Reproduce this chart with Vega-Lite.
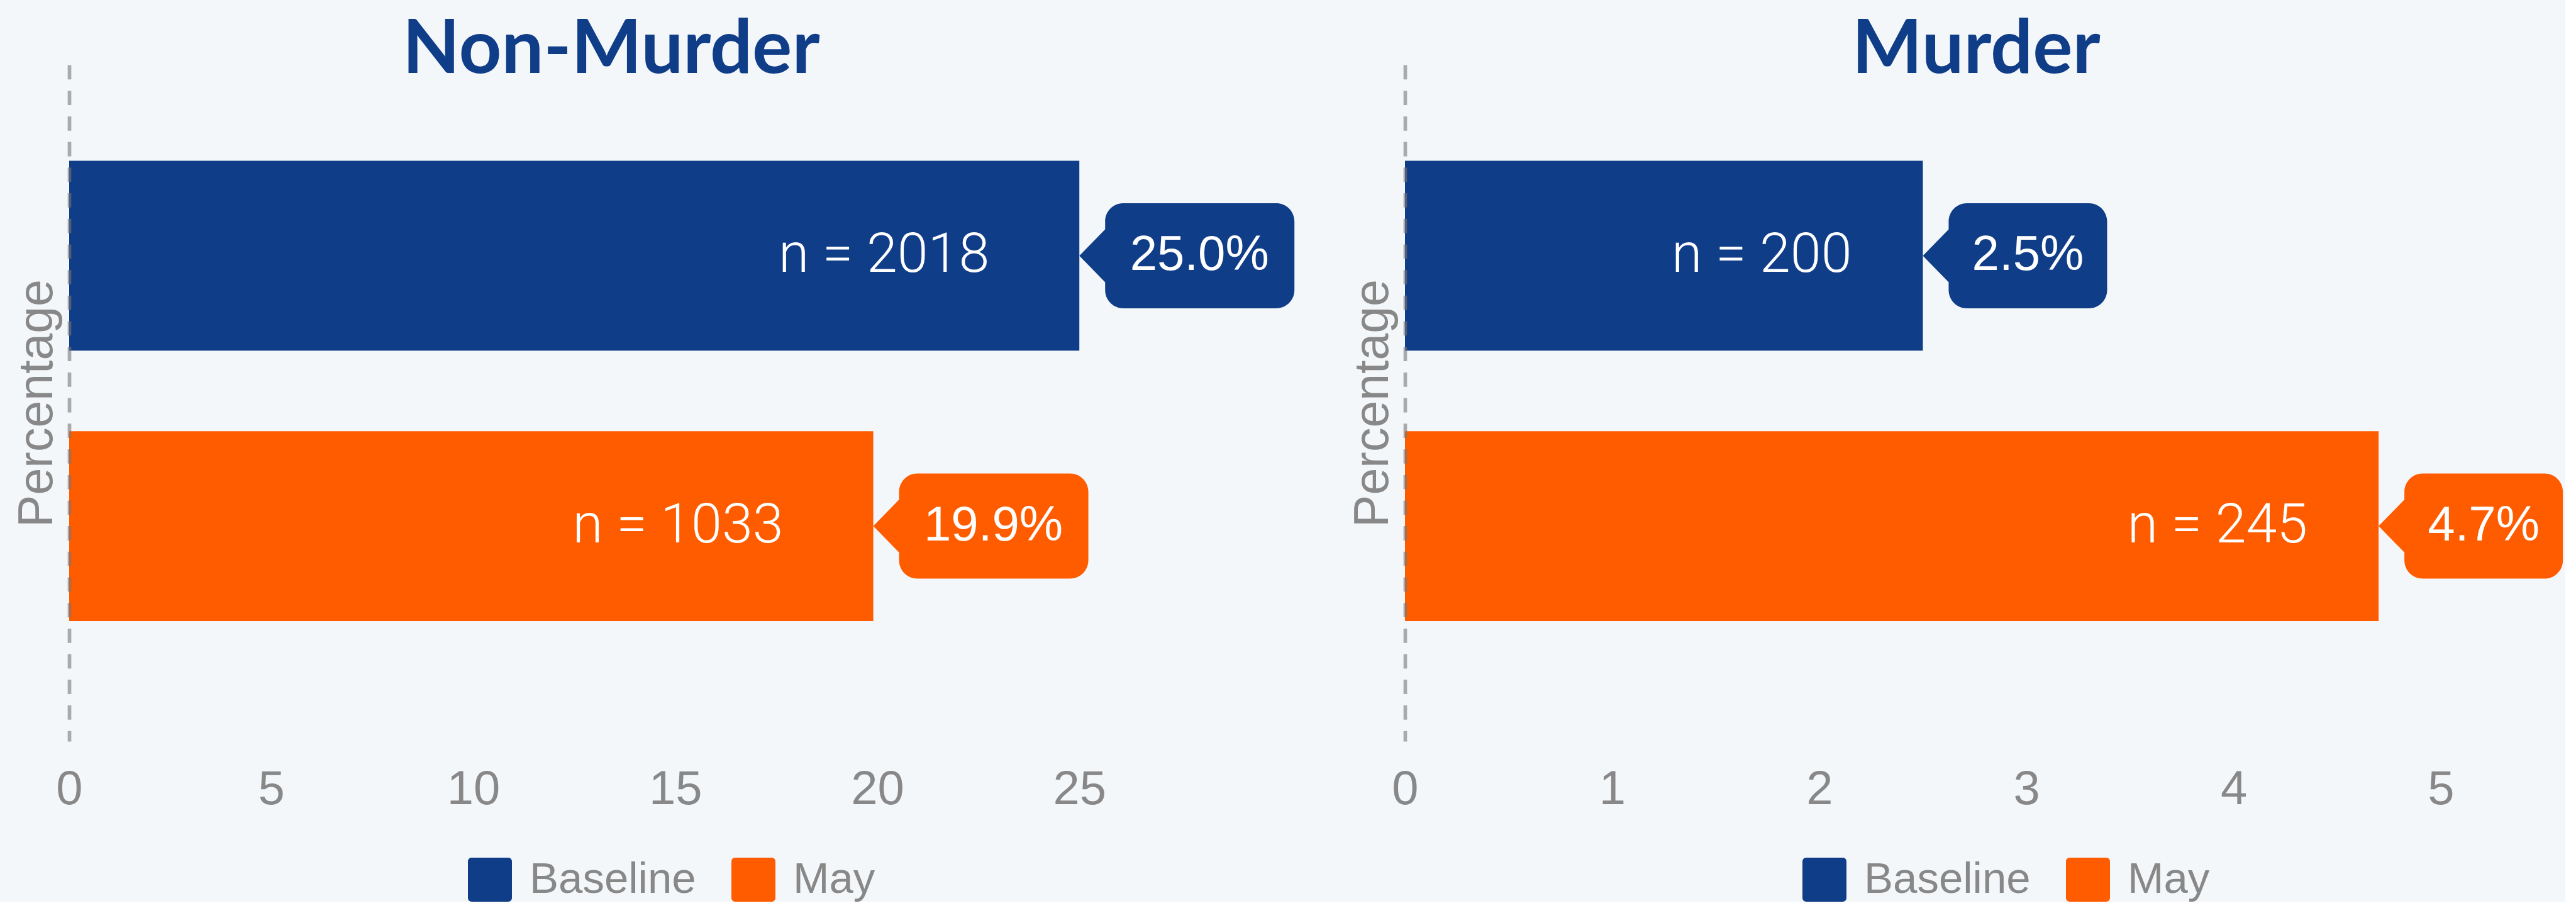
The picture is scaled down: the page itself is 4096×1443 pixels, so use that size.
{
  "$schema": "https://vega.github.io/schema/vega-lite/v6.json",
  "background": "#f4f7fa",
  "padding": {"left": 20, "top": 20, "right": 0, "bottom": 0},
  "spacing": 74,
  "config": {
    "font": "Liberation Sans",
    "view": {"stroke": null}
  },
  "resolve": {
    "scale": {"x": "independent", "y": "independent", "color": "independent"},
    "legend": {"color": "independent"},
    "axis": {"x": "independent", "y": "independent"}
  },
  "hconcat": [
    {
      "width": 1959.6,
      "height": 1075,
      "title": {"text": "Non-Murder", "font": "Lato", "fontWeight": "bold", "fontSize": 118.5, "color": "#0f3d87", "baseline": "alphabetic", "offset": -131, "dx": -118, "anchor": "middle", "frame": "group"},
      "data": {"values": [
        {"series": "Baseline", "pct": 25.0, "nlabel": "n = 2018", "pctlabel": "25.0%"},
        {"series": "May", "pct": 19.9, "nlabel": "n = 1033", "pctlabel": "19.9%"}
      ]},
      "encoding": {
        "y": {"field": "series", "type": "nominal", "sort": ["Baseline", "May"],
          "scale": {"paddingInner": 0.298, "paddingOuter": 0.4, "align": 0.444},
          "axis": {"title": "Percentage", "labels": false, "ticks": false, "grid": false, "domain": true, "domainDash": [22.8, 17.9], "domainColor": "#777777", "domainOpacity": 0.6, "domainWidth": 5.7, "titleFontSize": 77, "titleColor": "#888888", "titleFontWeight": "normal", "titleFont": "Liberation Sans", "titlePadding": 12, "zindex": 1}}
      },
      "layer": [
        {
          "mark": {"type": "bar"},
          "encoding": {
            "x": {"field": "pct", "type": "quantitative", "scale": {"domain": [0, 30.5], "nice": false},
              "axis": {"values": [0, 5, 10, 15, 20, 25], "format": "d", "domain": false, "ticks": false, "tickSize": 0, "grid": false, "labelFontSize": 76, "labelColor": "#888888", "labelFont": "Liberation Sans", "labelPadding": 39, "labelFlush": false, "title": null}},
            "color": {"field": "series", "type": "nominal", "scale": {"domain": ["Baseline", "May"], "range": ["#0f3d87", "#ff5c00"]},
              "legend": {"orient": "none", "legendX": 634, "legendY": 1260, "direction": "horizontal", "title": null, "symbolType": "M-1,-0.83 A0.17,0.17 0 0 1 -0.83,-1 L0.83,-1 A0.17,0.17 0 0 1 1,-0.83 L1,0.83 A0.17,0.17 0 0 1 0.83,1 L-0.83,1 A0.17,0.17 0 0 1 -1,0.83 Z", "symbolSize": 4900, "symbolStrokeWidth": 0, "symbolOpacity": 1, "labelFontSize": 69, "labelLimit": 600, "labelColor": "#888888", "labelFont": "Liberation Sans", "labelOffset": 28, "columnPadding": 56, "padding": 0}}
          }
        },
        {
          "mark": {"type": "text", "align": "right", "baseline": "middle", "dx": -143, "font": "Roboto", "fontWeight": 300, "fontSize": 88, "color": "#ffffff"},
          "encoding": {"x": {"field": "pct", "type": "quantitative"}, "text": {"field": "nlabel"}}
        },
        {
          "mark": {"type": "point", "shape": "M0,0 L0.41,-0.42 L0.41,-0.545 A0.29,0.29 0 0 1 0.7,-0.835 L3.13,-0.835 A0.29,0.29 0 0 1 3.42,-0.545 L3.42,0.545 A0.29,0.29 0 0 1 3.13,0.835 L0.7,0.835 A0.29,0.29 0 0 1 0.41,0.545 L0.41,0.42 Z", "size": 40000, "filled": true, "opacity": 1, "strokeWidth": 0},
          "encoding": {"x": {"field": "pct", "type": "quantitative"}, "color": {"field": "series", "type": "nominal"}}
        },
        {
          "mark": {"type": "text", "align": "center", "baseline": "middle", "dx": 191, "font": "Liberation Sans", "fontSize": 78, "color": "#ffffff"},
          "encoding": {"x": {"field": "pct", "type": "quantitative"}, "text": {"field": "pctlabel"}}
        }
      ]
    },
    {
      "width": 1844.6,
      "height": 1075,
      "title": {"text": "Murder", "font": "Lato", "fontWeight": "bold", "fontSize": 118.5, "color": "#0f3d87", "baseline": "alphabetic", "offset": -131, "dx": -14, "anchor": "middle", "frame": "group"},
      "data": {"values": [
        {"series": "Baseline", "pct": 2.5, "nlabel": "n = 200", "pctlabel": "2.5%"},
        {"series": "May", "pct": 4.7, "nlabel": "n = 245", "pctlabel": "4.7%"}
      ]},
      "encoding": {
        "y": {"field": "series", "type": "nominal", "sort": ["Baseline", "May"],
          "scale": {"paddingInner": 0.298, "paddingOuter": 0.4, "align": 0.444},
          "axis": {"title": "Percentage", "labels": false, "ticks": false, "grid": false, "domain": true, "domainDash": [22.8, 17.9], "domainColor": "#777777", "domainOpacity": 0.6, "domainWidth": 5.7, "titleFontSize": 77, "titleColor": "#888888", "titleFontWeight": "normal", "titleFont": "Liberation Sans", "titlePadding": 12, "zindex": 1}}
      },
      "layer": [
        {
          "mark": {"type": "bar"},
          "encoding": {
            "x": {"field": "pct", "type": "quantitative", "scale": {"domain": [0, 5.6], "nice": false},
              "axis": {"values": [0, 1, 2, 3, 4, 5], "format": "d", "domain": false, "ticks": false, "tickSize": 0, "grid": false, "labelFontSize": 76, "labelColor": "#888888", "labelFont": "Liberation Sans", "labelPadding": 39, "labelFlush": false, "title": null}},
            "color": {"field": "series", "type": "nominal", "scale": {"domain": ["Baseline", "May"], "range": ["#0f3d87", "#ff5c00"]},
              "legend": {"orient": "none", "legendX": 632, "legendY": 1260, "direction": "horizontal", "title": null, "symbolType": "M-1,-0.83 A0.17,0.17 0 0 1 -0.83,-1 L0.83,-1 A0.17,0.17 0 0 1 1,-0.83 L1,0.83 A0.17,0.17 0 0 1 0.83,1 L-0.83,1 A0.17,0.17 0 0 1 -1,0.83 Z", "symbolSize": 4900, "symbolStrokeWidth": 0, "symbolOpacity": 1, "labelFontSize": 69, "labelLimit": 600, "labelColor": "#888888", "labelFont": "Liberation Sans", "labelOffset": 28, "columnPadding": 56, "padding": 0}}
          }
        },
        {
          "mark": {"type": "text", "align": "right", "baseline": "middle", "dx": -113, "font": "Roboto", "fontWeight": 300, "fontSize": 88, "color": "#ffffff"},
          "encoding": {"x": {"field": "pct", "type": "quantitative"}, "text": {"field": "nlabel"}}
        },
        {
          "mark": {"type": "point", "shape": "M0,0 L0.41,-0.42 L0.41,-0.545 A0.29,0.29 0 0 1 0.7,-0.835 L2.64,-0.835 A0.29,0.29 0 0 1 2.93,-0.545 L2.93,0.545 A0.29,0.29 0 0 1 2.64,0.835 L0.7,0.835 A0.29,0.29 0 0 1 0.41,0.545 L0.41,0.42 Z", "size": 40000, "filled": true, "opacity": 1, "strokeWidth": 0},
          "encoding": {"x": {"field": "pct", "type": "quantitative"}, "color": {"field": "series", "type": "nominal"}}
        },
        {
          "mark": {"type": "text", "align": "center", "baseline": "middle", "dx": 167, "font": "Liberation Sans", "fontSize": 78, "color": "#ffffff"},
          "encoding": {"x": {"field": "pct", "type": "quantitative"}, "text": {"field": "pctlabel"}}
        }
      ]
    }
  ]
}
